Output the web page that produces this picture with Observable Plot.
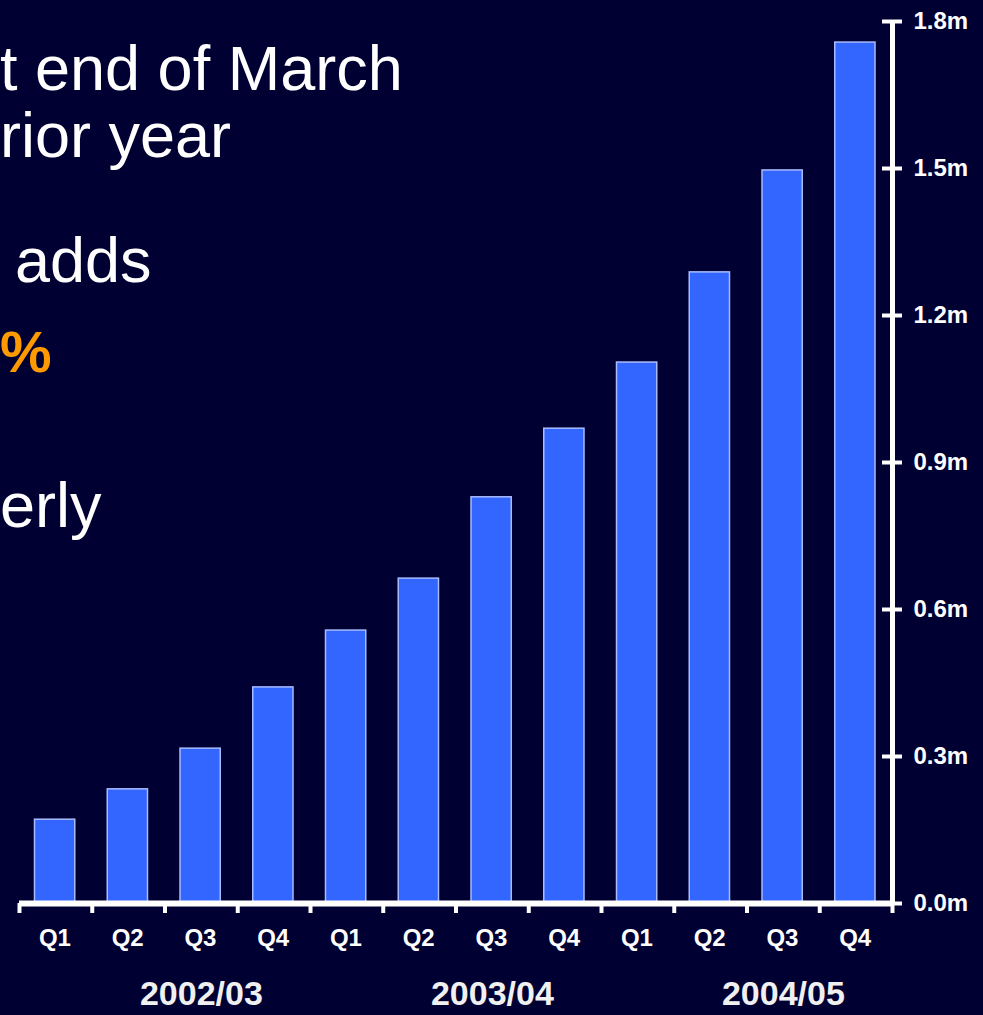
<!DOCTYPE html>
<html><head><meta charset="utf-8">
<script src="https://cdn.jsdelivr.net/npm/d3@7"></script>
<script src="https://cdn.jsdelivr.net/npm/@observablehq/plot@0.6"></script>
<style>
html,body{margin:0;padding:0;background:#000033;overflow:hidden}
#wrap{position:relative;width:983px;height:1015px;overflow:hidden}
.slide{position:absolute;font-family:"Liberation Sans",Arial,sans-serif;font-size:63px;line-height:63px;color:#fff;white-space:nowrap;pointer-events:none}
</style></head><body>
<div id="wrap">
  <div id="chart"></div>
  <div class="slide" style="left:0px;top:36.7px">t end of March</div>
  <div class="slide" style="left:0px;top:103.7px">rior year</div>
  <div class="slide" style="left:15px;top:228.7px">adds</div>
  <div class="slide" style="left:0px;top:319.7px;color:#ff9900;font-weight:bold;font-size:58px">%</div>
  <div class="slide" style="left:0px;top:473.7px">erly</div>
</div>
<script>
const years = ["2002/03", "2003/04", "2004/05"];
const quarters = ["Q1", "Q2", "Q3", "Q4"];
const values = [0.171, 0.233, 0.316, 0.441, 0.557, 0.663, 0.829, 0.969, 1.104, 1.288, 1.496, 1.757];
const yTicks = [0, 0.3, 0.6, 0.9, 1.2, 1.5, 1.8];

const data = values.map((v, i) => ({i, year: years[Math.floor(i / 4)], q: quarters[i % 4], v}));
const n = values.length;

const chart = Plot.plot({
  width: 983,
  height: 1015,
  marginLeft: 19,
  marginRight: 91,
  marginTop: 21,
  marginBottom: 112,
  x: {domain: [0, n], axis: null},
  y: {domain: [0, 1.8], axis: null},
  style: {background: "#000033", color: "white", fontFamily: "'Liberation Sans', Arial, sans-serif"},
  marks: [
    Plot.rectY(data, {x1: d => d.i, x2: d => d.i + 1, y: "v", fill: "#3366ff", stroke: "#a9bbff", strokeWidth: 1.5, insetLeft: 15.5, insetRight: 17}),
    Plot.ruleY([0], {stroke: "white", strokeWidth: 6}),
    Plot.axisX(d3.range(n + 1), {tickSize: 10, tickFormat: () => "", stroke: "white", strokeWidth: 4, label: null}),
    Plot.ruleX([n], {stroke: "white", strokeWidth: 5}),
    Plot.ruleY(yTicks, {x1: n, x2: n, y: d => d, insetLeft: -10, insetRight: -10, stroke: "white", strokeWidth: 4}),
    Plot.text(yTicks, {x: n, y: d => d, text: d => d.toFixed(1) + "m", dx: 21, textAnchor: "start", fontSize: 24, fontWeight: "bold", fill: "white", style: "letter-spacing:0.5px"}),
    Plot.text(data, {x: d => d.i + 0.5, y: 0, text: "q", dy: 35, dx: -1, fontSize: 24, fontWeight: "bold", fill: "white"}),
    Plot.text(data.filter(d => d.q === "Q3"), {x: d => d.i + 0.5, y: 0, text: "year", dy: 91, fontSize: 34, fontWeight: "bold", fill: "#f0f0f0"})
  ]
});
document.getElementById("chart").appendChild(chart);
</script>
</body></html>
